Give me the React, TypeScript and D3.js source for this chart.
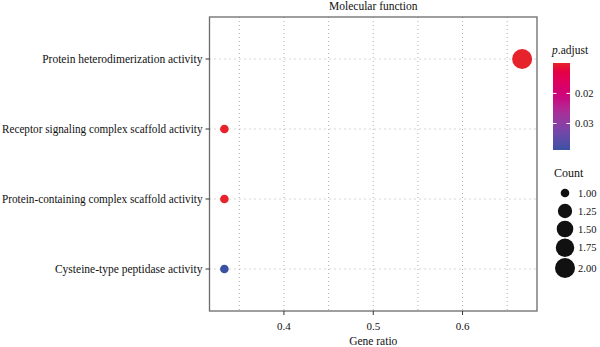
import React from "react";
import * as d3 from "d3";

const categories = [
  "Protein heterodimerization activity",
  "Receptor signaling complex scaffold activity",
  "Protein-containing complex scaffold activity",
  "Cysteine-type peptidase activity",
];
const geneRatio = [0.6667, 0.3333, 0.3333, 0.3333];
const counts = [2, 1, 1, 1];
const pAdjust = [0.0099, 0.0099, 0.0099, 0.0388];
const xTicks = [0.4, 0.5, 0.6];
const xMinor = [0.35, 0.45, 0.55, 0.65];
const pTicks = [0.02, 0.03];
const countBreaks = [1.0, 1.25, 1.5, 1.75, 2.0];

const W = 600, H = 347;
const L = 209.5, R = 537, T = 17, B = 311;
const FONT = "Liberation Serif, Times New Roman, DejaVu Serif, serif";
const RED = "#e6222a";
const BLUE = "#3b51a3";
const LABEL_SIZE = 11.5;

let ctx: CanvasRenderingContext2D | null = null;
function measure(s: string, size: number) {
  if (!ctx) ctx = document.createElement("canvas").getContext("2d");
  if (!ctx) return 0;
  ctx.font = `${size}px "Liberation Serif", serif`;
  return ctx.measureText(s).width;
}

export default function App() {
  const ext = d3.extent(geneRatio) as [number, number];
  const pad = (ext[1] - ext[0]) * 0.05;
  const x = d3.scaleLinear().domain([ext[0] - pad, ext[1] + pad]).range([L, R]);
  const y = d3.scalePoint<string>().domain(categories).range([T, B]).padding(0.6);
  const pExt = d3.extent(pAdjust) as [number, number];
  const color = d3.scaleLinear<string>().domain(pExt).range([RED, BLUE]).interpolate(d3.interpolateHcl);
  const size = d3.scaleSqrt().domain([0, 1]).range([4.3, 10]);
  const cExt = d3.extent(counts) as [number, number];
  const r = (c: number) => size((c - cExt[0]) / (cExt[1] - cExt[0]));

  const cbTop = 63, cbBot = 150, cbL = 553, cbR = 570;
  const cb = d3.scaleLinear().domain(pExt).range([cbTop, cbBot]);
  const gradStops = d3.range(0, 1.0001, 0.1);

  const legX = 565;
  let cy = 193;
  const legY: number[] = [];
  countBreaks.forEach((c, i) => {
    if (i > 0) {
      const hPrev = Math.max(18, 2 * r(countBreaks[i - 1]) + 1);
      const hCur = Math.max(18, 2 * r(c) + 1);
      cy += (hPrev + hCur) / 2;
    }
    legY.push(cy);
  });

  const ts = { fontFamily: FONT };
  const maxLabelW = L - 7 - 2;

  return (
    <svg width={W} height={H} style={{ position: "absolute", left: 0, top: 0, background: "#fff", fontFamily: FONT }}>
      <defs>
        <linearGradient id="pg" x1="0" y1="0" x2="0" y2="1">
          {gradStops.map((t) => (
            <stop key={t} offset={t} stopColor={color(pExt[0] + t * (pExt[1] - pExt[0]))} />
          ))}
        </linearGradient>
      </defs>
      <text style={ts} x={(L + R) / 2} y={10} textAnchor="middle" fontSize={11.5} fill="#111">Molecular function</text>
      {[...xTicks, ...xMinor].map((v) => (
        <line key={"v" + v} x1={x(v)} x2={x(v)} y1={T} y2={B} stroke="#999" strokeWidth={0.8} strokeDasharray="1,3" />
      ))}
      {categories.map((c) => (
        <line key={"h" + c} x1={L} x2={R} y1={y(c)} y2={y(c)} stroke="#999" strokeWidth={0.8} strokeDasharray="1,4" />
      ))}
      {categories.map((c, i) => (
        <circle key={"p" + c} cx={x(geneRatio[i])} cy={y(c)} r={r(counts[i])} fill={color(pAdjust[i])} />
      ))}
      <rect x={L} y={T} width={R - L} height={B - T} fill="none" stroke="#6b6b6b" strokeWidth={1.3} />
      {categories.map((c) => {
        const w = measure(c, LABEL_SIZE);
        const fit = w > maxLabelW;
        return (
          <g key={"yl" + c}>
            <line x1={L - 4} x2={L} y1={y(c)} y2={y(c)} stroke="#333" strokeWidth={1} />
            <text style={ts} x={L - 7} y={y(c)} dy="0.35em" textAnchor="end" fontSize={LABEL_SIZE} fill="#111"
              {...(fit ? { textLength: maxLabelW, lengthAdjust: "spacingAndGlyphs" } : {})}>{c}</text>
          </g>
        );
      })}
      {xTicks.map((v) => (
        <g key={"xt" + v}>
          <line x1={x(v)} x2={x(v)} y1={B} y2={B + 4} stroke="#333" strokeWidth={1} />
          <text style={ts} x={x(v)} y={B + 19} textAnchor="middle" fontSize={11} fill="#111">{v.toFixed(1)}</text>
        </g>
      ))}
      <text style={ts} x={(L + R) / 2} y={345} textAnchor="middle" fontSize={11.5} fill="#111">Gene ratio</text>
      <text style={ts} x={cbL - 1} y={54} fontSize={11.5} fill="#111"><tspan fontStyle="italic">p</tspan>.adjust</text>
      <rect x={cbL} y={cbTop} width={cbR - cbL} height={cbBot - cbTop} fill="url(#pg)" />
      {pTicks.map((v) => (
        <g key={"pt" + v}>
          <line x1={cbL} x2={cbL + 3.5} y1={cb(v)} y2={cb(v)} stroke="#fff" strokeWidth={1} />
          <line x1={cbR - 3.5} x2={cbR} y1={cb(v)} y2={cb(v)} stroke="#fff" strokeWidth={1} />
          <text style={ts} x={cbR + 5} y={cb(v)} dy="0.35em" fontSize={10.5} fill="#111">{v.toFixed(2)}</text>
        </g>
      ))}
      <text style={ts} x={cbL + 1} y={177} fontSize={12} fill="#111">Count</text>
      {countBreaks.map((c, i) => (
        <g key={"cb" + c}>
          <circle cx={legX} cy={legY[i]} r={r(c)} fill="#111" />
          <text style={ts} x={578} y={legY[i]} dy="0.35em" fontSize={10.5} fill="#111">{c.toFixed(2)}</text>
        </g>
      ))}
    </svg>
  );
}
